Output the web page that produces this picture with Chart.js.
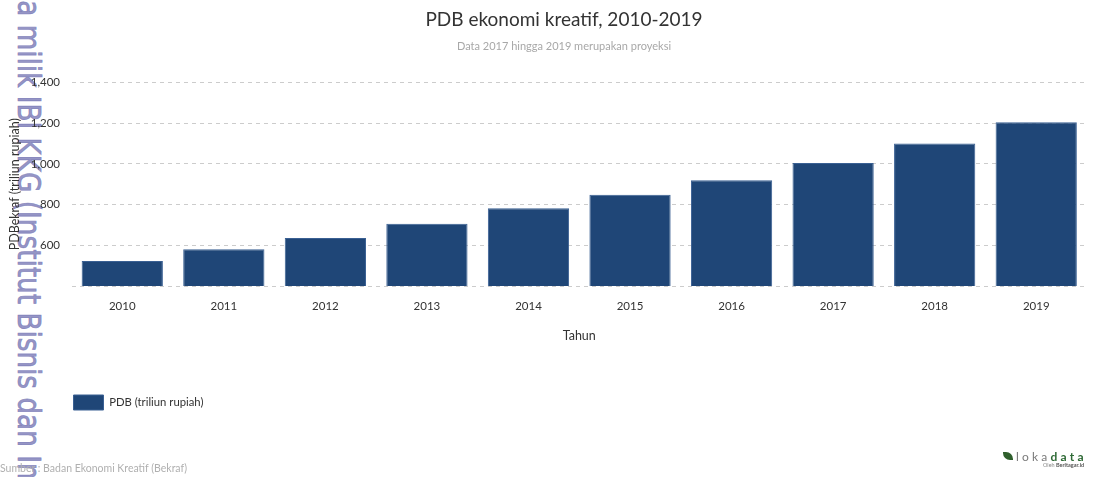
<!DOCTYPE html>
<html lang="id">
<head>
    <meta charset="UTF-8">
    <title>PDB ekonomi kreatif, 2010-2019</title>
    <script src="https://cdn.jsdelivr.net/npm/chart.js"></script>
    <style>
        html, body { margin: 0; padding: 0; background: #fff; overflow: hidden; }
        #wrap { position: relative; width: 1097px; height: 477px; overflow: hidden; font-family: Lato, sans-serif; }
        #chart { position: absolute; left: 0; top: 0; }
        #title { position: absolute; left: 0; width: 1128px; top: 6.5px; text-align: center; font-size: 19px; line-height: 23px; color: #333; }
        #subtitle { position: absolute; left: 0; width: 1128px; top: 38.5px; text-align: center; font-size: 11px; line-height: 13px; color: #a8a8a8; }
        #source { position: absolute; left: 0; top: 462px; font-size: 10.5px; color: #b0b0b0; white-space: nowrap; }
        #logo { position: absolute; left: 1003px; top: 449px; white-space: nowrap; }
        #logo .leaf { position: absolute; left: 0; top: 3px; width: 10px; height: 8px; background: #2f5f2c; border-radius: 0 7px 0 7px; }
        #logo .name { position: absolute; left: 13px; top: 0; font-size: 12px; letter-spacing: 3.2px; color: #7a7a7a; }
        #logo .name b { color: #2f6a36; font-weight: 700; }
        #logo .by { position: absolute; left: 40px; top: 13px; font-size: 5.5px; color: #888; }
        #logo .by b { color: #555; }
        #wm { position: absolute; left: 45px; top: 0; font-family: "DejaVu Sans", sans-serif; font-size: 32px; line-height: 1;
              color: rgba(120, 120, 182, 0.78); white-space: nowrap; transform-origin: 0 0; pointer-events: none;
              -webkit-text-stroke: 0.8px rgba(120, 120, 182, 0.78); }
    </style>
</head>
<body>
<div id="wrap">
    <div id="wm"><span id="wmPre">Hak cipt</span><span id="wmMain">a milik IBI KKG (Institut Bisnis dan </span>Informatika Kwik Kian Gie)</div>
    <canvas id="chart" width="1097" height="477"></canvas>
    <div id="title">PDB ekonomi kreatif, 2010-2019</div>
    <div id="subtitle">Data 2017 hingga 2019 merupakan proyeksi</div>
    <div id="source">Sumber : Badan Ekonomi Kreatif (Bekraf)</div>
    <div id="logo">
        <span class="leaf"></span>
        <span class="name">loka<b>data</b></span>
        <span class="by">Oleh <b>Beritagar.id</b></span>
    </div>
</div>
<script>
    // data
    const years = ['2010', '2011', '2012', '2013', '2014', '2015', '2016', '2017', '2018', '2019'];
    const pdbValues = [523, 580, 636, 706, 782, 848, 920, 1005, 1100, 1205];
    const yTickValues = [400, 600, 800, 1000, 1200, 1400];

    // squeeze the vertical watermark so its visible part fits the left edge
    const wm = document.getElementById('wm');
    const preW = document.getElementById('wmPre').offsetWidth;
    const mainW = document.getElementById('wmMain').offsetWidth;
    const s = 455 / mainW;
    wm.style.top = (-preW * s) + 'px';
    wm.style.transform = 'rotate(90deg) scale(' + s + ', 1)';

    const ctx = document.getElementById('chart').getContext('2d');
    new Chart(ctx, {
        type: 'bar',
        data: {
            labels: years,
            datasets: [{
                label: 'PDB (triliun rupiah)',
                data: pdbValues,
                backgroundColor: '#1f4677',
                borderColor: '#3a6093',
                borderWidth: 1,
                borderSkipped: false,
                barPercentage: 0.8,
                categoryPercentage: 1.0
            }]
        },
        options: {
            responsive: false,
            animation: false,
            layout: { padding: { left: 0, right: 10, top: 82.5, bottom: 57 } },
            plugins: {
                legend: {
                    position: 'bottom',
                    align: 'start',
                    fullSize: false,
                    labels: {
                        boxWidth: 30,
                        boxHeight: 15,
                        padding: 2,
                        color: '#333',
                        font: { family: 'Lato', size: 11.3 }
                    }
                },
                tooltip: { enabled: false }
            },
            scales: {
                x: {
                    grid: { display: false },
                    border: { display: false },
                    ticks: { color: '#333', padding: 5, font: { family: 'Lato', size: 11.5 } },
                    title: {
                        display: true,
                        text: 'Tahun',
                        color: '#333',
                        font: { family: 'Lato', size: 12.5 },
                        padding: { top: 0, bottom: 50 }
                    },
                    afterFit: function (scale) { scale.height = 107; }
                },
                y: {
                    min: 400,
                    max: 1400,
                    afterBuildTicks: function (scale) {
                        scale.ticks = yTickValues.map(v => ({ value: v }));
                    },
                    grid: { color: '#cccccc', lineWidth: 1, drawTicks: false },
                    border: { display: false, dash: [4, 4] },
                    ticks: {
                        color: '#333',
                        padding: 11.5,
                        font: { family: 'Lato', size: 11.5 },
                        callback: function (value) {
                            return value === 400 ? '' : value.toLocaleString('en-US');
                        }
                    },
                    title: {
                        display: true,
                        text: 'PDBekraf (triliun rupiah)',
                        color: '#333',
                        font: { family: 'Lato', size: 12.5 },
                        padding: { top: 7.5, bottom: 0 }
                    },
                    afterFit: function (scale) { scale.width = 71.5; }
                }
            }
        }
    });
</script>
</body>
</html>
